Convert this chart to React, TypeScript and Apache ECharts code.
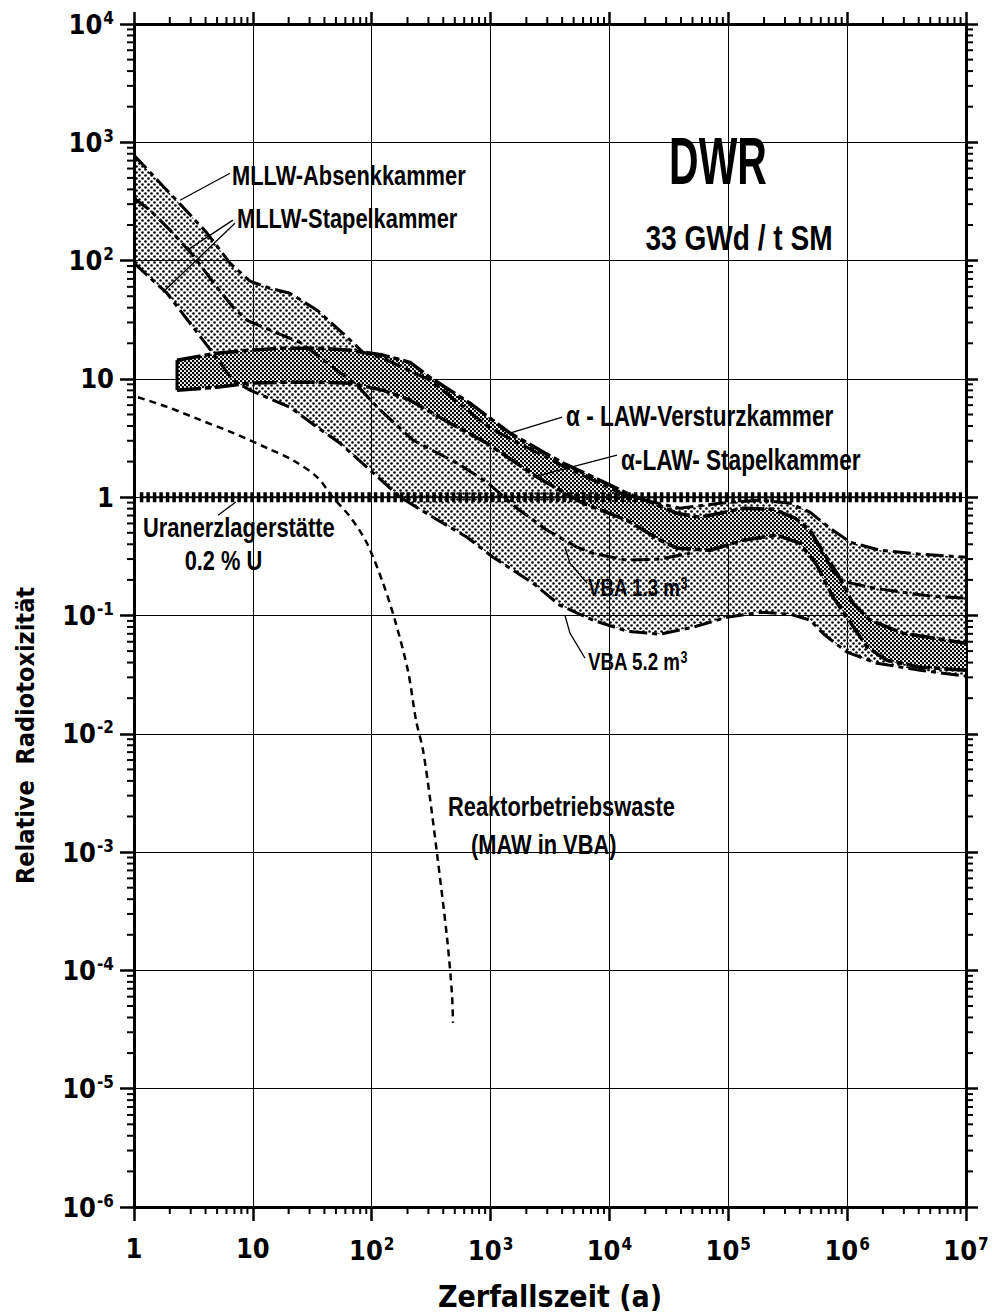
import React, { useEffect, useRef } from "react";
import * as echarts from "echarts";

// ---------- axes ----------
const X_MIN = 1;
const X_MAX = 1e7;
const Y_MIN = 1e-6;
const Y_MAX = 1e4;
const X_DECADES = [1, 10, 100, 1e3, 1e4, 1e5, 1e6, 1e7];
const Y_DECADES = [1e-6, 1e-5, 1e-4, 1e-3, 1e-2, 1e-1, 1, 10, 100, 1e3, 1e4];
const MINOR_STEPS = [2, 3, 4, 5, 6, 7, 8, 9];

// ---------- light stipple band (MLLW / VBA) ----------
const LIGHT_UPPER: [number, number][] = [
  [1, 778], [1.363, 559], [1.823, 409], [2.584, 283], [4.113, 171], [6.424, 95.1],
  [9.46, 67], [13.9, 58.4], [20.5, 53], [34.7, 38.1], [57.3, 24.3], [84.5, 16.8],
  [124, 14.96], [309, 9.75], [989, 3.83], [4066, 1.83], [14060, 1.02], [39200, 0.807],
  [85100, 0.89], [185000, 0.943], [331000, 0.89], [487000, 0.747], [717000, 0.547],
  [1.057e6, 0.417], [1.89e6, 0.356], [4.1e6, 0.33], [1e7, 0.311],
];
const LIGHT_LOWER: [number, number][] = [
  [1, 95.1], [1.895, 53], [3.136, 27.4], [4.62, 16.5], [6.8, 9.75], [9.46, 8.03],
  [14.8, 6.61], [20.5, 5.77], [34.7, 3.91], [54.1, 2.86], [91.3, 1.79], [173, 1.0],
  [328, 0.677], [634, 0.459], [1048, 0.311], [2275, 0.1875], [3838, 0.122], [7270, 0.0913],
  [14060, 0.0737], [26640, 0.0695], [50500, 0.0796], [97500, 0.0967], [185000, 0.1066],
  [331000, 0.1026], [487000, 0.0913], [650000, 0.0682], [997000, 0.049], [1.78e6, 0.0395],
  [4.1e6, 0.0345], [1e7, 0.0307],
];
const MLLW_MIDDLE: [number, number][] = [
  [1, 337], [1.363, 267], [2.01, 181], [3.136, 111], [4.99, 59.6], [6.8, 40.4], [8.93, 31.3],
  [12.2, 27.4], [19.4, 22.5], [24.9, 20.4], [44.6, 13.1], [75.2, 8.85], [111, 5.77],
  [223, 3.03], [522, 1.94], [933, 1.34], [1668, 0.807], [2984, 0.526], [5335, 0.378],
  [7270, 0.336], [14060, 0.293], [26640, 0.3], [47600, 0.336],
];
const RIGHT_MIDDLE: [number, number][] = [
  [487000, 0.526], [614000, 0.343], [822000, 0.211], [997000, 0.191], [1.556e6, 0.173],
  [2.16e6, 0.164], [4.98e6, 0.146], [1e7, 0.14],
];

// ---------- dark stipple band (alpha-LAW) ----------
const DARK_UPPER: [number, number][] = [
  [2.3, 14.4], [4.99, 16.5], [9.46, 17.5], [17.9, 18.2], [34.7, 18.2], [65.7, 17.5],
  [124, 15.9], [210, 13.8], [309, 10.3], [671, 6.23], [1456, 3.48], [4066, 1.94],
  [7270, 1.48], [14060, 1.08], [23250, 0.89], [36980, 0.732], [57800, 0.677], [85100, 0.732],
  [133000, 0.807], [238000, 0.792], [364000, 0.665], [487000, 0.526], [614000, 0.356],
  [822000, 0.228], [1.12e6, 0.127], [1.556e6, 0.0913], [2.95e6, 0.0709], [1e7, 0.0583],
];
const DARK_LOWER: [number, number][] = [
  [2.3, 8.03], [4.99, 8.51], [9.46, 9.2], [17.9, 9.38], [34.7, 9.38], [65.7, 9.2],
  [124, 8.03], [210, 6.61], [456, 4.22], [933, 2.86], [2458, 1.48], [5990, 0.89],
  [14060, 0.639], [26640, 0.433], [36980, 0.371], [70200, 0.356], [133000, 0.433],
  [257000, 0.477], [401000, 0.408], [557000, 0.266], [760000, 0.143], [997000, 0.0967],
  [1.47e6, 0.054], [2.16e6, 0.0419], [4.1e6, 0.0366], [1e7, 0.0345],
];

// ---------- Reaktorbetriebswaste (MAW in VBA) ----------
const REACTOR_WASTE: [number, number][] = [
  [1.08, 7.0], [1.9, 5.8], [3.6, 4.5], [6.8, 3.5], [13.2, 2.6], [21.8, 2.05], [34.7, 1.48],
  [47, 1.0], [66, 0.68], [91, 0.41], [124, 0.19], [157, 0.091], [202, 0.034], [236, 0.013],
  [270, 0.0073], [310, 0.0028], [354, 0.00098], [430, 0.00019], [473, 6.4e-5], [483, 3.6e-5],
];

// ---------- Uranerzlagerstaette 0.2 % U ----------
const URANIUM_ORE: [number, number][] = [[1.12, 1], [9.25e6, 1]];

// ---------- pointer lines ----------
const POINTERS: [number, number][][] = [
  [[6.42, 548], [2.44, 324]],
  [[6.8, 220], [2.79, 122]],
  [[7.07, 207], [1.75, 54]],
  [[4000, 4.75], [1456, 3.48]],
  [[11580, 2.265], [2275, 1.476]],
  [[6470, 0.1875], [4656, 0.277], [4227, 0.378]],
  [[6230, 0.0435], [4656, 0.0709], [4227, 0.1]],
  [[7.2, 0.91], [5.09, 0.705]],
];

// ---------- text annotations ----------
const LABELS = [
  { text: "MLLW-Absenkkammer", at: [6.675, 527] },
  { text: "MLLW-Stapelkammer", at: [7.36, 230] },
  { text: "DWR", at: [81900, 692], size: 66, sx: 0.62, align: "center" },
  { text: "33 GWd / t SM", at: [123000, 155], size: 36, align: "center" },
  { text: "α - LAW-Versturzkammer", at: [4311, 4.84], size: 29 },
  { text: "α-LAW- Stapelkammer", at: [12500, 2.055], size: 29 },
  { text: "VBA 1.3 m{s|3}", at: [6603, 0.17], size: 24 },
  { text: "VBA 5.2 m{s|3}", at: [6603, 0.0403], size: 24 },
  { text: "Uranerzlagerstätte", at: [1.19, 0.558] },
  { text: "0.2 % U", at: [5.66, 0.2934], align: "center" },
  { text: "Reaktorbetriebswaste", at: [438.5, 0.00244] },
  { text: "(MAW in VBA)", at: [684, 0.001166] },
];

const AXIS_FONT = "'DejaVu Sans Condensed','Liberation Sans Narrow','Roboto Condensed','DejaVu Sans',sans-serif";
const TEXT_FONT = "'Liberation Sans','DejaVu Sans',sans-serif";

function makePattern(size: number, dots: number[][], r: number, bg: string | null) {
  const c = document.createElement("canvas");
  c.width = size;
  c.height = size;
  const ctx = c.getContext("2d")!;
  if (bg) {
    ctx.fillStyle = bg;
    ctx.fillRect(0, 0, size, size);
  }
  ctx.fillStyle = "#000";
  dots.forEach(([x, y]) => {
    ctx.beginPath();
    ctx.arc(x, y, r, 0, Math.PI * 2);
    ctx.fill();
  });
  return { image: c, repeat: "repeat", imageWidth: size, imageHeight: size } as any;
}

export default function App() {
  const ref = useRef<HTMLDivElement>(null);

  useEffect(() => {
    const el = ref.current!;
    const chart = echarts.init(el, null, { renderer: "svg", width: 992, height: 1316 });

    const lightFill = makePattern(6, [[1.5, 1.5], [4.5, 4.5]], 1.3, null);
    const darkFill = makePattern(4, [[1, 1], [3, 3]], 1.25, "#fff");

    const xMinor: number[] = [];
    for (let k = 0; k < 7; k++) MINOR_STEPS.forEach((m) => xMinor.push(m * Math.pow(10, k)));
    const yMinor: number[] = [];
    for (let k = -6; k < 4; k++) MINOR_STEPS.forEach((m) => yMinor.push(m * Math.pow(10, k)));

    const fmt = (v: number) => {
      const e = Math.round(Math.log10(v));
      if (e === 0) return "1";
      if (e === 1) return "10";
      return "10{s|" + (e < 0 ? "-" + -e : String(e)) + "}";
    };
    const rich = {
      s: {
        fontSize: 17,
        fontWeight: "bold",
        fontFamily: AXIS_FONT,
        color: "#000",
        verticalAlign: "top",
        padding: [0, 0, 13, 1],
      },
    };

    const axisLine = { show: true, onZero: false, lineStyle: { color: "#000", width: 3 } };

    const polygon = (upper: [number, number][], lower: [number, number][], fill: any, z: number) => ({
      type: "custom",
      coordinateSystem: "cartesian2d",
      data: [[upper[0][0], upper[0][1]]],
      clip: true,
      silent: true,
      z,
      renderItem: (_p: any, api: any) => ({
        type: "polygon",
        shape: { points: [...upper, ...lower.slice().reverse()].map((d) => api.coord(d)) },
        style: { fill, stroke: "none" },
      }),
    });

    const line = (data: [number, number][], style: any, z: number, smooth: any = false) => ({
      type: "line",
      data,
      showSymbol: false,
      symbol: "none",
      silent: true,
      smooth,
      z,
      lineStyle: style,
    });

    const BAND_EDGE = { color: "#000", width: 3, type: [18, 5, 5, 5] };
    const DARK_EDGE = { color: "#000", width: 3.5, type: [24, 4, 6, 4] };

    const option: any = {
      animation: false,
      backgroundColor: "#fff",
      grid: { left: 134, right: 26, top: 24, bottom: 109, containLabel: false },
      xAxis: [
        {
          type: "log",
          logBase: 10,
          min: X_MIN,
          max: X_MAX,
          position: "bottom",
          axisLine,
          axisTick: { show: true, customValues: X_DECADES, length: 14, lineStyle: { color: "#000", width: 2.5 } },
          axisLabel: {
            customValues: X_DECADES,
            formatter: fmt,
            rich,
            margin: 28,
            color: "#000",
            fontFamily: AXIS_FONT,
            fontWeight: "bold",
            fontSize: 27,
          },
          splitLine: { show: true, lineStyle: { color: "#000", width: 1 } },
          name: "Zerfallszeit (a)",
          nameLocation: "middle",
          nameGap: 74,
          nameTextStyle: { fontFamily: AXIS_FONT, fontWeight: "bold", fontSize: 30, color: "#000" },
        },
        {
          type: "log",
          logBase: 10,
          min: X_MIN,
          max: X_MAX,
          position: "top",
          axisLine,
          axisTick: { show: true, customValues: X_DECADES, length: 12, lineStyle: { color: "#000", width: 2.5 } },
          axisLabel: { show: false },
          splitLine: { show: false },
        },
      ],
      yAxis: [
        {
          type: "log",
          logBase: 10,
          min: Y_MIN,
          max: Y_MAX,
          position: "left",
          axisLine,
          axisTick: { show: true, customValues: Y_DECADES, length: 14, lineStyle: { color: "#000", width: 2.5 } },
          axisLabel: {
            customValues: Y_DECADES,
            formatter: fmt,
            rich,
            margin: 20,
            color: "#000",
            fontFamily: AXIS_FONT,
            fontWeight: "bold",
            fontSize: 27,
          },
          splitLine: { show: true, lineStyle: { color: "#000", width: 1 } },
          name: "Relative  Radiotoxizität",
          nameLocation: "middle",
          nameRotate: 90,
          nameGap: 96,
          nameTextStyle: {
            fontFamily: AXIS_FONT,
            fontWeight: "bold",
            fontSize: 25,
            color: "#000",
            padding: [0, 240, 0, 0],
          },
        },
        {
          type: "log",
          logBase: 10,
          min: Y_MIN,
          max: Y_MAX,
          position: "right",
          axisLine,
          axisTick: { show: true, customValues: Y_DECADES, length: 12, lineStyle: { color: "#000", width: 2.5 } },
          axisLabel: { show: false },
          splitLine: { show: false },
        },
      ],
      series: [
        polygon(LIGHT_UPPER, LIGHT_LOWER, lightFill, 1),
        polygon(DARK_UPPER, DARK_LOWER, darkFill, 2),
        line(LIGHT_UPPER, BAND_EDGE, 3),
        line(LIGHT_LOWER, BAND_EDGE, 3),
        line(MLLW_MIDDLE, BAND_EDGE, 3),
        line(RIGHT_MIDDLE, BAND_EDGE, 3),
        line(DARK_UPPER, DARK_EDGE, 4),
        line(DARK_LOWER, DARK_EDGE, 4),
        line([DARK_UPPER[0], DARK_LOWER[0]], { color: "#000", width: 3 }, 4),
        line(REACTOR_WASTE, { color: "#000", width: 2.5, type: [7, 5] }, 5, 0.3),
        line(URANIUM_ORE, { color: "#000", width: 2 }, 6),
        line(URANIUM_ORE, { color: "#000", width: 10, type: [3.5, 3] }, 6),
        ...POINTERS.map((p) => line(p as [number, number][], { color: "#000", width: 1.3 }, 7)),
        {
          type: "custom",
          coordinateSystem: "cartesian2d",
          data: xMinor.map((v) => [v, 1]),
          clip: false,
          silent: true,
          z: 8,
          renderItem: (_p: any, api: any) => {
            const v = api.value(0);
            const b = api.coord([v, Y_MIN]);
            const t = api.coord([v, Y_MAX]);
            return {
              type: "group",
              children: [
                { type: "line", shape: { x1: b[0], y1: b[1], x2: b[0], y2: b[1] + 7 }, style: { stroke: "#000", lineWidth: 2 } },
                { type: "line", shape: { x1: t[0], y1: t[1], x2: t[0], y2: t[1] - 7 }, style: { stroke: "#000", lineWidth: 2 } },
              ],
            };
          },
        },
        {
          type: "custom",
          coordinateSystem: "cartesian2d",
          data: yMinor.map((v) => [1, v]),
          clip: false,
          silent: true,
          z: 8,
          renderItem: (_p: any, api: any) => {
            const v = api.value(1);
            const l = api.coord([X_MIN, v]);
            const r = api.coord([X_MAX, v]);
            return {
              type: "group",
              children: [
                { type: "line", shape: { x1: l[0], y1: l[1], x2: l[0] - 7, y2: l[1] }, style: { stroke: "#000", lineWidth: 2 } },
                { type: "line", shape: { x1: r[0], y1: r[1], x2: r[0] + 7, y2: r[1] }, style: { stroke: "#000", lineWidth: 2 } },
              ],
            };
          },
        },
        {
          type: "custom",
          coordinateSystem: "cartesian2d",
          data: LABELS.map((l) => l.at),
          clip: false,
          silent: true,
          z: 9,
          renderItem: (params: any, api: any) => {
            const lab: any = LABELS[params.dataIndex];
            const p = api.coord([api.value(0), api.value(1)]);
            const align = lab.align || "left";
            return {
              type: "text",
              x: p[0],
              y: p[1],
              scaleX: lab.sx || 0.78,
              style: {
                text: lab.text,
                fontSize: lab.size || 28,
                fontWeight: "bold",
                fontFamily: TEXT_FONT,
                fill: "#000",
                align,
                verticalAlign: "middle",
                textAlign: align,
                textVerticalAlign: "middle",
                rich: {
                  s: { fontSize: 16, fontWeight: "bold", fontFamily: TEXT_FONT, fill: "#000", verticalAlign: "top", padding: [0, 0, 10, 0] },
                },
              },
            };
          },
        },
      ],
    };

    chart.setOption(option);
    return () => chart.dispose();
  }, []);

  return (
    <div
      ref={ref}
      style={{ position: "fixed", left: 0, top: 0, width: 992, height: 1316, background: "#fff" }}
    />
  );
}
